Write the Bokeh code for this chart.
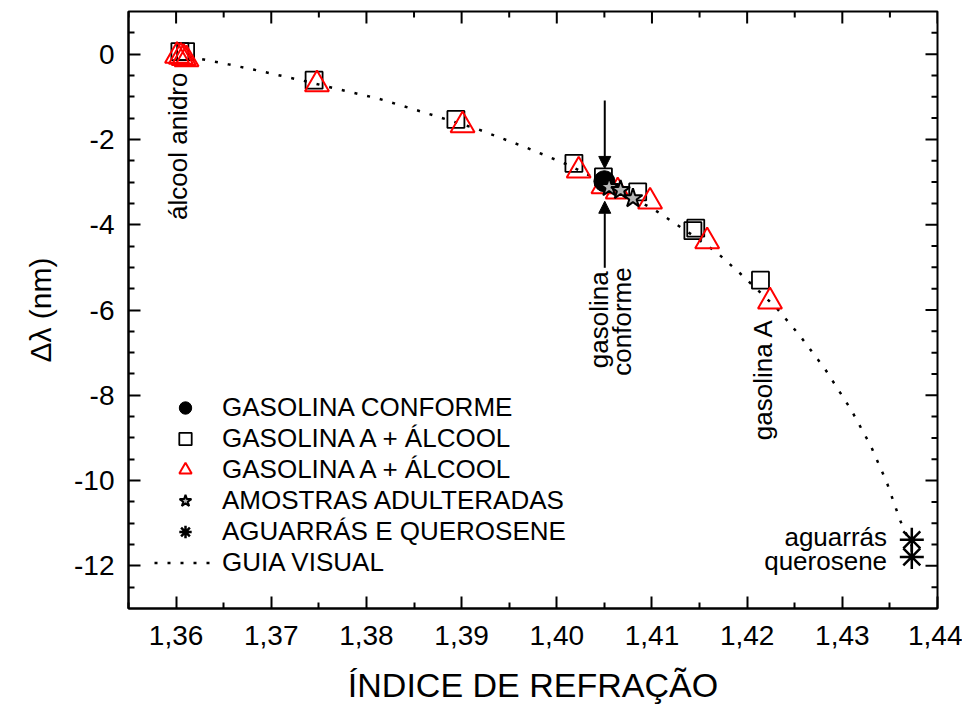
import math
from bokeh.plotting import figure
from bokeh.models import (Range1d, FixedTicker, CustomJSTickFormatter,
                          Legend, LegendItem, Label, Arrow, NormalHead)
from bokeh.embed import file_html
from bokeh.resources import INLINE

FONT = "Liberation Sans"

# ---------------- data ----------------
conforme_n = [1.4050]
conforme_dl = [-2.98]

mix_sq_n = [1.3604, 1.3610, 1.3745, 1.3894, 1.4018, 1.4049, 1.4085, 1.4146, 1.4143, 1.4214]
mix_sq_dl = [0.06, 0.06, -0.61, -1.53, -2.56, -2.88, -3.23, -4.08, -4.14, -5.30]

mix_tri_n = [1.3601, 1.3605, 1.3608, 1.3611, 1.3748, 1.3901, 1.4023, 1.4049, 1.4064, 1.4098, 1.4158, 1.4224]
mix_tri_dl = [-0.04, -0.06, -0.09, -0.12, -0.71, -1.67, -2.73, -3.10, -3.22, -3.46, -4.39, -5.80]

adult_n = [1.4055, 1.4067, 1.4080]
adult_dl = [-3.12, -3.19, -3.38]

solv_n = [1.4373, 1.4373]
solv_dl = [-11.39, -11.79]

guide_n = [1.3614, 1.3655, 1.3681, 1.3733, 1.3772, 1.3812, 1.3864, 1.3917, 1.3969,
           1.4009, 1.4036, 1.4102, 1.4141, 1.4168, 1.4193, 1.4219, 1.4232, 1.4256,
           1.4282, 1.4309, 1.4330, 1.4347, 1.4361, 1.4373]
guide_dl = [-0.06, -0.24, -0.36, -0.62, -0.83, -1.04, -1.39, -1.76, -2.20,
            -2.57, -2.86, -3.64, -4.22, -4.65, -5.15, -5.70, -5.98, -6.62,
            -7.39, -8.33, -9.19, -10.06, -10.95, -11.53]

x_ticks = [1.36, 1.37, 1.38, 1.39, 1.40, 1.41, 1.42, 1.43, 1.44]
x_minor = [1.355, 1.365, 1.375, 1.385, 1.395, 1.405, 1.415, 1.425, 1.435]
y_ticks = [0, -2, -4, -6, -8, -10, -12]
y_minor = [-0.5, -1, -1.5, -2.5, -3, -3.5, -4.5, -5, -5.5, -6.5, -7, -7.5, -8.5, -9, -9.5,
           -10.5, -11, -11.5, -12.5, 0.5]

legend_labels = ["GASOLINA CONFORME", "GASOLINA A + ÁLCOOL", "GASOLINA A + ÁLCOOL",
                 "AMOSTRAS ADULTERADAS", "AGUARRÁS E QUEROSENE", "GUIA VISUAL"]

# ---------------- layout constants ----------------
X_MIN, X_MAX = 1.355, 1.44
Y_MIN, Y_MAX = -13.0, 1.0
FRAME_W, FRAME_H = 809, 597
MAJOR_LEN, MINOR_LEN = 12, 6

p = figure(width=962, height=707, x_range=Range1d(X_MIN, X_MAX), y_range=Range1d(Y_MIN, Y_MAX),
           output_backend="svg", toolbar_location=None,
           min_border_left=128, min_border_right=25, min_border_top=11, min_border_bottom=99)
p.xgrid.visible = False
p.ygrid.visible = False
p.outline_line_color = "black"
p.outline_line_width = 2
p.background_fill_color = "white"
p.border_fill_color = "white"


def style_axis(ax):
    ax.axis_line_width = 2
    ax.axis_line_color = "black"
    ax.major_tick_line_width = 2
    ax.minor_tick_line_width = 2
    ax.major_tick_in = MAJOR_LEN
    ax.major_tick_out = 0
    ax.minor_tick_in = MINOR_LEN
    ax.minor_tick_out = 0
    ax.major_label_text_font = FONT
    ax.major_label_text_color = "black"
    ax.axis_label_text_font = FONT
    ax.axis_label_text_font_style = "normal"
    ax.axis_label_text_color = "black"


xa = p.xaxis[0]
style_axis(xa)
xa.ticker = FixedTicker(ticks=x_ticks, minor_ticks=x_minor)
xa.formatter = CustomJSTickFormatter(code="return tick.toFixed(2).replace('.', ',');")
xa.major_label_text_font_size = "28px"
xa.major_label_standoff = 17
xa.axis_label = "ÍNDICE DE REFRAÇÃO"
xa.axis_label_text_font_size = "34px"
xa.axis_label_standoff = 18

ya = p.yaxis[0]
style_axis(ya)
ya.ticker = FixedTicker(ticks=y_ticks, minor_ticks=y_minor)
ya.formatter = CustomJSTickFormatter(code="return tick.toFixed(0);")
ya.major_label_text_font_size = "28px"
ya.major_label_standoff = 14
ya.axis_label = "Δλ (nm)"
ya.axis_label_text_font_size = "30px"
ya.axis_label_standoff = 14

# mirrored (unlabelled) ticks on the right and top edges of the frame
dy_px = (Y_MAX - Y_MIN) / FRAME_H
dx_px = (X_MAX - X_MIN) / FRAME_W
for pos, ln in ((y_ticks, MAJOR_LEN), (y_minor, MINOR_LEN)):
    p.segment(x0=[X_MAX] * len(pos), y0=pos, x1=[X_MAX - ln * dx_px] * len(pos), y1=pos,
              line_color="black", line_width=2)
for pos, ln in ((x_ticks, MAJOR_LEN), (x_minor, MINOR_LEN)):
    p.scatter(x=pos, y=[Y_MAX - ln * dy_px / 2] * len(pos), marker="dash", size=ln,
              angle=math.pi / 2, line_color="black", line_width=2)

# ---------------- glyphs ----------------
r_guide = p.line(guide_n, guide_dl, line_color="black", line_width=2.5, line_dash="3 10")
r_sq = p.scatter(mix_sq_n, mix_sq_dl, marker="square", size=17, fill_color=None,
                 line_color="black", line_width=1.8)
r_tri = p.scatter(mix_tri_n, mix_tri_dl, marker="triangle", size=24, fill_color=None,
                  line_color="#FF0000", line_width=2)
r_circ = p.scatter(conforme_n, conforme_dl, marker="circle", size=21, fill_color="black",
                   line_color="black")
r_star = p.scatter(adult_n, adult_dl, marker="star", size=20, fill_color="#B4B4B4",
                   line_color="black", line_width=2)
r_ast = p.scatter(solv_n, solv_dl, marker="asterisk", size=24, line_color="black",
                  line_width=2.5)

legend = Legend(items=[LegendItem(label=legend_labels[0], renderers=[r_circ]),
                       LegendItem(label=legend_labels[1], renderers=[r_sq]),
                       LegendItem(label=legend_labels[2], renderers=[r_tri]),
                       LegendItem(label=legend_labels[3], renderers=[r_star]),
                       LegendItem(label=legend_labels[4], renderers=[r_ast]),
                       LegendItem(label=legend_labels[5], renderers=[r_guide])],
                location=(26, 30), padding=0, margin=0, spacing=0,
                glyph_width=62, glyph_height=31, label_height=31, label_standoff=6,
                label_text_font=FONT, label_text_font_size="26px", label_text_color="black",
                border_line_color=None, background_fill_alpha=0)
p.add_layout(legend)


# ---------------- annotations ----------------
def lab(x, y, text, angle=0.0, align="center"):
    p.add_layout(Label(x=x, y=y, text=text, angle=angle, text_align=align,
                       text_baseline="middle", text_font=FONT, text_font_size="26px",
                       text_color="black"))


lab(1.3602, -2.16, "álcool anidro", angle=1.5708)
lab(1.4044, -6.23, "gasolina", angle=1.5708)
lab(1.4069, -6.27, "conforme", angle=1.5708)
lab(1.4217, -7.63, "gasolina A", angle=1.5708)
lab(1.4347, -11.32, "aguarrás", align="right")
lab(1.4347, -11.88, "querosene", align="right")

p.add_layout(Arrow(end=NormalHead(size=12, fill_color="black", line_color="black"),
                   x_start=1.40504, y_start=-1.09, x_end=1.40504, y_end=-2.68,
                   line_width=2, line_color="black"))
p.add_layout(Arrow(end=NormalHead(size=12, fill_color="black", line_color="black"),
                   x_start=1.40504, y_start=-5.01, x_end=1.40504, y_end=-3.45,
                   line_width=2, line_color="black"))

open("out.html", "w").write(file_html(p, INLINE))
